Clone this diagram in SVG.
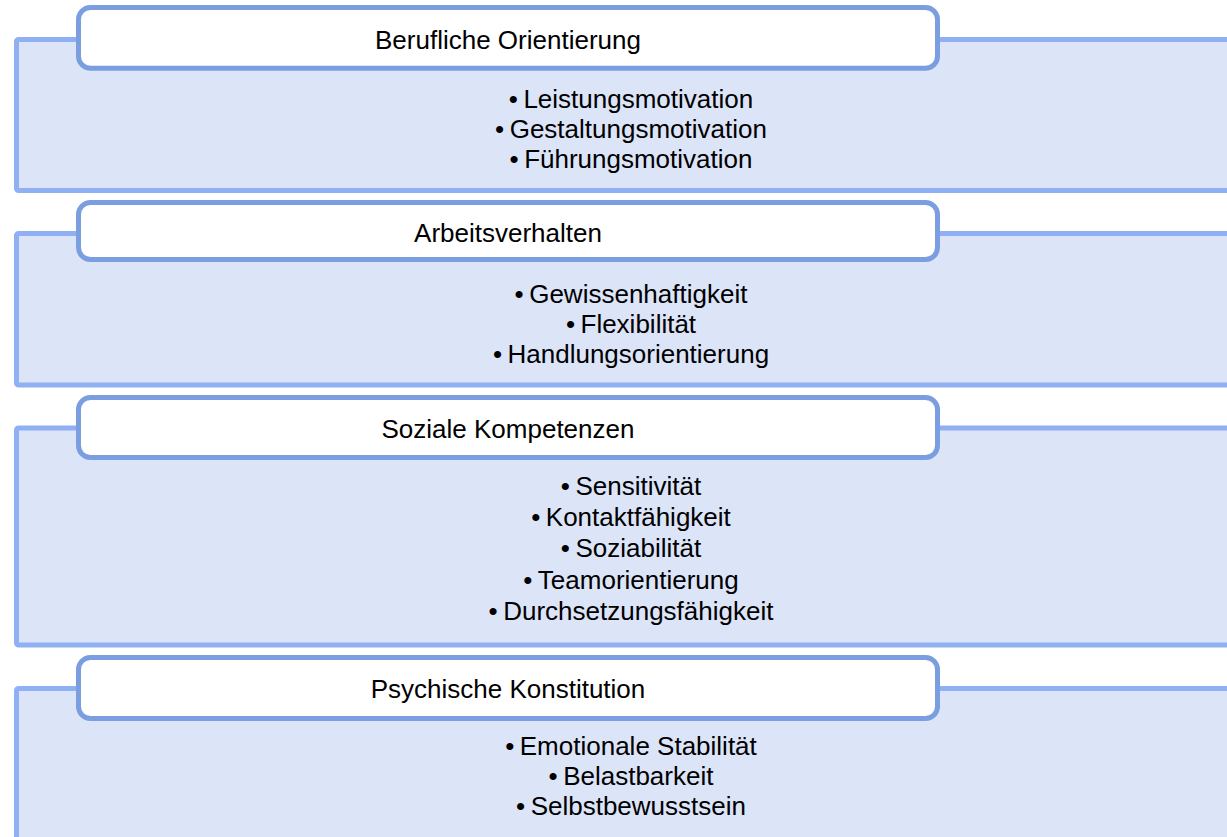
<svg xmlns="http://www.w3.org/2000/svg" width="1227" height="837" viewBox="0 0 1227 837">
<style>
.bg{fill:#DCE4F8;stroke:#8FB0F2;stroke-width:5}
.hd{fill:#FFFFFF;stroke:#7B9EE0;stroke-width:5}
.t{font-family:"Liberation Sans",Arial,sans-serif;font-size:26px;fill:#000000;text-anchor:middle}
</style>
<rect width="1227" height="837" fill="#FFFFFF"/>
<g id="panel1">
<rect class="bg" x="16.5" y="39.5" width="1300" height="151" rx="2"/>
<rect class="hd" x="78.5" y="7.5" width="859" height="60.8" rx="12"/>
<text class="t" x="508" y="48.5">Berufliche Orientierung</text>
<text class="t" x="631" y="108">•<tspan dx="5.5">Leistungsmotivation</tspan></text>
<text class="t" x="631" y="137.5">•<tspan dx="5.5">Gestaltungsmotivation</tspan></text>
<text class="t" x="631" y="167.5">•<tspan dx="5.5">Führungsmotivation</tspan></text>
</g>
<g id="panel2">
<rect class="bg" x="16.5" y="233.5" width="1300" height="151.5" rx="2"/>
<rect class="hd" x="78.5" y="202.5" width="859" height="57" rx="12"/>
<text class="t" x="508" y="241.5">Arbeitsverhalten</text>
<text class="t" x="631" y="302.5">•<tspan dx="5.5">Gewissenhaftigkeit</tspan></text>
<text class="t" x="631" y="332.5">•<tspan dx="5.5">Flexibilität</tspan></text>
<text class="t" x="631" y="362.5">•<tspan dx="5.5">Handlungsorientierung</tspan></text>
</g>
<g id="panel3">
<rect class="bg" x="16.5" y="428" width="1300" height="217" rx="2"/>
<rect class="hd" x="78.5" y="397.5" width="859" height="60" rx="12"/>
<text class="t" x="508" y="437.5">Soziale Kompetenzen</text>
<text class="t" x="631" y="495">•<tspan dx="5.5">Sensitivität</tspan></text>
<text class="t" x="631" y="526">•<tspan dx="5.5">Kontaktfähigkeit</tspan></text>
<text class="t" x="631" y="557.3">•<tspan dx="5.5">Soziabilität</tspan></text>
<text class="t" x="631" y="588.5">•<tspan dx="5.5">Teamorientierung</tspan></text>
<text class="t" x="631" y="620">•<tspan dx="5.5">Durchsetzungsfähigkeit</tspan></text>
</g>
<g id="panel4">
<rect class="bg" x="16.5" y="688.5" width="1300" height="200" rx="2"/>
<rect class="hd" x="78.5" y="657.5" width="859" height="61" rx="12"/>
<text class="t" x="508" y="698">Psychische Konstitution</text>
<text class="t" x="631" y="754.5">•<tspan dx="5.5">Emotionale Stabilität</tspan></text>
<text class="t" x="631" y="784.5">•<tspan dx="5.5">Belastbarkeit</tspan></text>
<text class="t" x="631" y="814.5">•<tspan dx="5.5">Selbstbewusstsein</tspan></text>
</g>
</svg>
